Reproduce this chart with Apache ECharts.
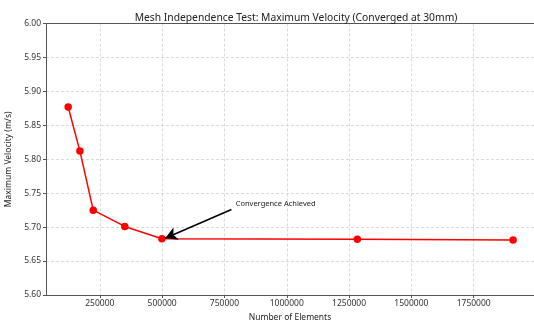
<!DOCTYPE html>
<html><head><meta charset="utf-8">
<script src="https://cdn.jsdelivr.net/npm/echarts@6/dist/echarts.min.js"></script>
<style>html,body{margin:0;padding:0;background:#fff}#c{width:534px;height:321px}</style>
</head><body><div id="c"></div>
<script>
const elements = [123000, 170000, 223500, 350000, 499000, 1283000, 1908000];
const velocity = [5.877, 5.812, 5.725, 5.701, 5.683, 5.682, 5.681];
const xTicks = [250000, 500000, 750000, 1000000, 1250000, 1500000, 1750000];
const yTicks = [5.60, 5.65, 5.70, 5.75, 5.80, 5.85, 5.90, 5.95, 6.00];
const annoText = 'Convergence Achieved';
const annoTextPos = [795000, 5.735];
const arrowFrom = [778000, 5.726];
const arrowTo = [512000, 5.6835];

const font = 'Noto Sans';
const xMin = 34000, xMax = 1992000;
const chart = echarts.init(document.getElementById('c'), null, {renderer: 'canvas'});
chart.setOption({
  animation: false,
  title: {text: 'Mesh Independence Test: Maximum Velocity (Converged at 30mm)', left: 291, top: 8, textAlign: 'center',
    textStyle: {fontFamily: font, fontWeight: 'normal', fontSize: 10.3, color: '#222'}},
  grid: {left: 46, right: 0, top: 23.5, bottom: 26, containLabel: false, outerBoundsMode: 'none'},
  xAxis: [{type: 'value', min: xMin, max: xMax, name: 'Number of Elements', nameLocation: 'middle', nameGap: 16,
    nameTextStyle: {fontFamily: font, fontSize: 8.5, color: '#222'},
    axisLine: {show: true, lineStyle: {color: '#555', width: 1}},
    axisTick: {show: true, customValues: xTicks, length: 3, lineStyle: {color: '#555'}},
    axisLabel: {customValues: xTicks, fontFamily: font, fontSize: 8.5, color: '#333', margin: 4, formatter: v => String(v)},
    splitLine: {show: true, lineStyle: {color: '#d0d0d0', type: [3, 2], width: 0.8}}},
    {type: 'value', position: 'top', min: xMin, max: xMax, axisLine: {show: true, lineStyle: {color: '#555', width: 1}},
     axisTick: {show: false}, axisLabel: {show: false}, splitLine: {show: false}}],
  yAxis: {type: 'value', min: 5.60, max: 6.00, interval: 0.05, name: 'Maximum Velocity (m/s)', nameLocation: 'middle', nameGap: 29,
    nameTextStyle: {fontFamily: font, fontSize: 8.5, color: '#222'},
    axisLine: {show: true, lineStyle: {color: '#555', width: 1}},
    axisTick: {show: true, length: 3, lineStyle: {color: '#555'}},
    axisLabel: {fontFamily: font, fontSize: 8.5, color: '#333', margin: 5, formatter: v => v.toFixed(2)},
    splitLine: {show: true, lineStyle: {color: '#d0d0d0', type: [3, 2], width: 0.8}}},
  series: [{
    type: 'line', data: elements.map((x, i) => [x, velocity[i]]),
    lineStyle: {color: '#ff0000', width: 1.5}, itemStyle: {color: '#ff0000'},
    symbol: 'circle', symbolSize: 7.5,
    markLine: {silent: true, symbol: ['none', 'arrow'], symbolSize: [10, 12],
      lineStyle: {color: '#000', width: 1.6, type: 'solid'}, label: {show: false},
      data: [[{coord: arrowFrom}, {coord: arrowTo}]]},
    markPoint: {silent: true, symbol: 'circle', symbolSize: 0,
      label: {show: true, position: 'right', distance: 0, formatter: annoText, fontFamily: font, fontSize: 7.5, color: '#222'},
      data: [{coord: annoTextPos}]}
  }]
});
</script></body></html>
